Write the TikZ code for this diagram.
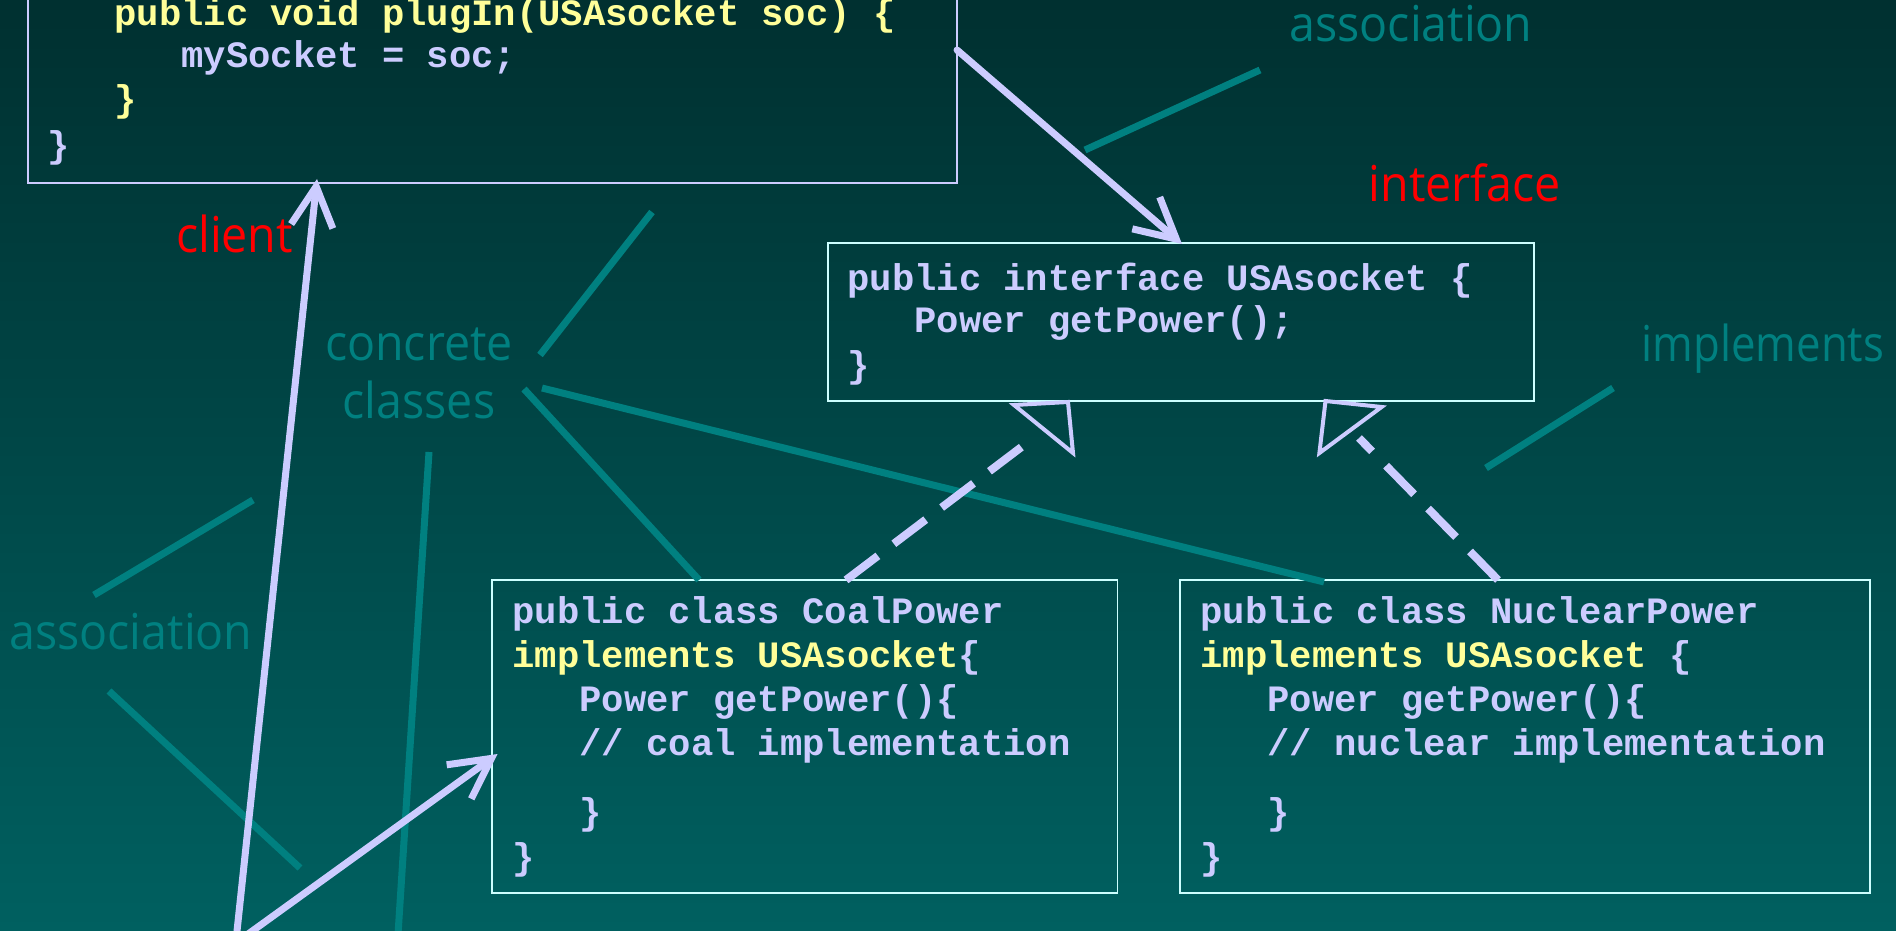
\documentclass[tikz,border=0pt]{standalone}
\usepackage{fontspec}
\usetikzlibrary{arrows.meta,fit}
\newfontfamily\codefnt{Liberation Mono}[WordSpace={1,0,0}]
\newfontfamily\labfnt{Open Sans}[FakeStretch=0.94]
\definecolor{bgtop}{RGB}{0,48,48}
\definecolor{bgbot}{RGB}{0,96,96}
\definecolor{lav}{RGB}{204,204,255}
\definecolor{yel}{RGB}{255,255,153}
\definecolor{tealc}{RGB}{0,128,128}
\definecolor{boxc}{RGB}{204,255,255}
\tikzset{
  code/.style={anchor=base west, inner sep=0pt, font=\codefnt\bfseries\fontsize{18.6}{20}\selectfont, text=lav},
  codey/.style={code, text=yel},
  lab/.style={anchor=base, inner sep=0pt, font=\labfnt\fontsize{24.75}{28}\selectfont, text=tealc},
  redlab/.style={lab, text=red},
  box/.style={draw=boxc, line width=0.9pt, inner sep=0pt},
  callout/.style={draw=tealc, line width=3.5pt},
  assoc/.style={draw=lav, line width=3.5pt, line cap=round, line join=round, -{Straight Barb[length=20pt,width=21pt]}},
  real/.style={draw=lav, line width=4pt, dash pattern=on 20pt off 10pt},
  tri/.style={draw=lav, line width=2pt, line join=miter},
}
\begin{document}
\begin{tikzpicture}[x=0.5pt,y=-0.5pt]
\useasboundingbox (0,0) rectangle (1896,931);
\clip (0,0) rectangle (1896,931);
\fill[top color=bgtop, bottom color=bgbot] (0,0) rectangle (1896,931);

% boxes
\node[box, draw=lav, fit={(27.7,-40) (957,182.7)}] (client) {};
\node[box, fit={(828,243.3) (1533.7,400.7)}] (iface) {};
\node[box, fit={(492,580) (1117.5,892.7)}] (coal) {};
\node[box, fit={(1179.7,580) (1870,893)}] (nuc) {};

% client code
\node[codey] (c1) at (114,26) {public void plugIn(USAsocket soc) \{};
\node[code]  (c2) at (181,68) {mySocket = soc;};
\node[codey] (c3) at (114,112) {\}};
\node[code]  (c4) at (47,157) {\}};

% interface code
\node[code] (i1) at (847,290) {public interface USAsocket \{};
\node[code] (i2) at (914,332) {Power getPower();};
\node[code] (i3) at (847,377) {\}};

% coal code
\node[code] (k1) at (512,623) {public class CoalPower};
\node[code] (k2) at (512,667) {{\color{yel}implements USAsocket}\{};
\node[code] (k3) at (579,711) {Power getPower()\{};
\node[code] (k4) at (579,755) {// coal implementation};
\node[code] (k5) at (579,824) {\}};
\node[code] (k6) at (512,869) {\}};

% nuclear code
\node[code] (n1) at (1200,623) {public class NuclearPower};
\node[code] (n2) at (1200,667) {{\color{yel}implements USAsocket} \{};
\node[code] (n3) at (1267,711) {Power getPower()\{};
\node[code] (n4) at (1267,755) {// nuclear implementation};
\node[code] (n5) at (1267,824) {\}};
\node[code] (n6) at (1200,869) {\}};

% labels
\node[lab] (lassocA) at (1411,42) {association};
\node[redlab] (linterf) at (1464.7,201.7) {interface};
\node[lab] (limpl) at (1763,361.7) {\scalebox{0.94}[1]{implements}};
\node[lab] (lconc) at (419,360.7) {concrete};
\node[lab] (lclass) at (419,418.3) {classes};
\node[lab] (lassocB) at (131,649) {association};
\node[redlab] (lclient) at (234.5,252) {client};

% callout pointers
\coordinate (t1a) at (1085,150); \coordinate (t1b) at (1260,70);
\coordinate (t2a) at (1486,468); \coordinate (t2b) at (1613,388);
\coordinate (t3a) at (540,355);  \coordinate (t3b) at (652,212);
\coordinate (t4a) at (524,389);  \coordinate (t4b) at (699,580);
\coordinate (t5a) at (542,388);  \coordinate (t5b) at (1324,582);
\coordinate (t6a) at (397,950);  \coordinate (t6b) at (429,452);
\coordinate (t7a) at (94,595);   \coordinate (t7b) at (253,500);
\coordinate (t8a) at (109,691);  \coordinate (t8b) at (300,868);
\draw[callout] (t1a) -- (t1b);
\draw[callout] (t2a) -- (t2b);
\draw[callout] (t3a) -- (t3b);
\draw[callout] (t4a) -- (t4b);
\draw[callout] (t5a) -- (t5b);
\draw[callout] (t6a) -- (t6b);
\draw[callout] (t7a) -- (t7b);
\draw[callout] (t8a) -- (t8b);

% association arrows
\coordinate (a1s) at (957,50);  \coordinate (a1t) at (1182,244);
\coordinate (a2s) at (235,950); \coordinate (a2t) at (317,179);
\coordinate (a3s) at (226,950); \coordinate (a3t) at (497.5,754);
\draw[assoc] (a1s) -- (a1t);
\draw[assoc] (a2s) -- (a2t);
\draw[assoc] (a3s) -- (a3t);

% realization (implements) arrows
\coordinate (r1s) at (846,580);  \coordinate (r1t) at (1036,436);
\coordinate (r2s) at (1498,580); \coordinate (r2t) at (1359,438);
\draw[real] (r1s) -- (r1t);
\draw[real] (r2s) -- (r2t);
\draw[tri] (1014,405) -- (1068,402) -- (1073,453) -- cycle;
\draw[tri] (1325.5,401) -- (1381.6,407) -- (1319.4,453) -- cycle;
\end{tikzpicture}
\end{document}
